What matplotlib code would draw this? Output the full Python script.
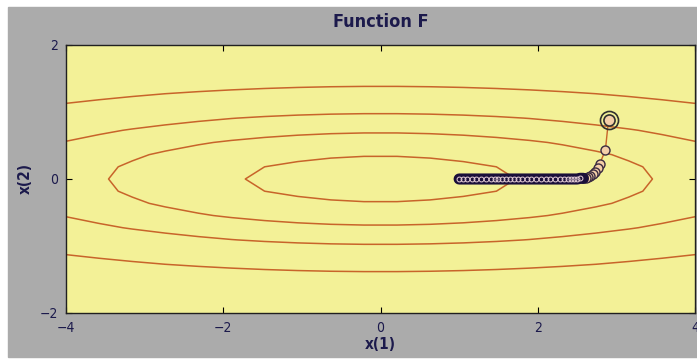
import numpy as np
import matplotlib.pyplot as plt
from matplotlib.patches import Rectangle

# Niveles de contorno y coeficientes de F(x1,x2) = a*x1^2 + b*x2^2
niveles = [3, 12, 24, 48]
coef_a = 1.0
coef_b = 25.0

# Trayectoria del optimizador
tray_x = [2.90, 2.86, 2.79, 2.76, 2.73, 2.70, 2.67, 2.64, 2.61, 2.58,
          2.54, 2.50, 2.46, 2.42, 2.38, 2.33, 2.28, 2.22, 2.16, 2.10,
          2.04, 1.98, 1.92, 1.86, 1.80, 1.75, 1.70, 1.65, 1.60, 1.55,
          1.50, 1.45, 1.40, 1.34, 1.28, 1.22, 1.16, 1.10, 1.05, 1.00]
tray_y = [0.88, 0.43, 0.23, 0.16, 0.11, 0.07, 0.05, 0.03, 0.02, 0.01,
          0.01, 0.0, 0.0, 0.0, 0.0, 0.0, 0.0, 0.0, 0.0, 0.0,
          0.0, 0.0, 0.0, 0.0, 0.0, 0.0, 0.0, 0.0, 0.0, 0.0,
          0.0, 0.0, 0.0, 0.0, 0.0, 0.0, 0.0, 0.0, 0.0, 0.0]

# Malla gruesa, como en el original
x_1 = np.linspace(-4, 4, 20)
x_2 = np.linspace(-2, 2, 23)
x_1, x_2 = np.meshgrid(x_1, x_2)
F = coef_a * x_1**2 + coef_b * x_2**2

gris = '#ababab'
amarillo = '#f3f197'
rojo = '#c8642a'
azul = '#1c1a4c'
fuente = dict(family='DejaVu Sans', stretch='condensed')

fig = plt.figure(figsize=(6.97, 3.6), dpi=100)
fig.patch.set_facecolor('white')
fig.add_artist(Rectangle((8 / 697, 3 / 360), 689 / 697, 350 / 360,
                         transform=fig.transFigure, color=gris, zorder=-10))

ax = fig.add_axes([66 / 697, 47 / 360, 629 / 697, 268 / 360])
ax.set_facecolor(amarillo)

ax.contour(x_1, x_2, F, levels=niveles, colors=rojo, linewidths=1.1)

# Trayectoria
ax.plot(tray_x[:2], tray_y[:2], color=rojo, lw=1.0, zorder=3)
ax.plot(tray_x[1:10], tray_y[1:10], color=rojo, lw=1.0, zorder=3)
ax.plot(tray_x[1:10], tray_y[1:10], 'o', ms=6.5, mfc='#f4cfa8', mec='#3a2a40',
        mew=1.0, zorder=4)
ax.plot(tray_x[9:], tray_y[9:], color='#1a0f3a', lw=8, zorder=5,
        solid_capstyle='round')
ax.plot(tray_x[10:], tray_y[10:], 'o', ms=3.5, mfc='none', mec='#e8d0d8',
        mew=0.7, zorder=6)
ax.plot(tray_x[0], tray_y[0], 'o', ms=13, mfc='none', mec='#303030',
        mew=1.2, zorder=7)
ax.plot(tray_x[0], tray_y[0], 'o', ms=8, mfc='#f4cfa8', mec='#303030',
        mew=1.2, zorder=7)

ax.set_xlim(-4, 4)
ax.set_ylim(-2, 2)
ax.set_xticks([-4, -2, 0, 2, 4])
ax.set_yticks([-2, 0, 2])
ax.tick_params(direction='in', top=True, right=True, length=4,
               labelsize=10, colors='black', labelcolor=azul, pad=6)
for lab in ax.get_xticklabels() + ax.get_yticklabels():
    lab.set(**fuente)

for s in ax.spines.values():
    s.set_color('#202020')
    s.set_linewidth(1.0)

ax.set_title('Function F', fontsize=13, fontweight='bold',
             color=azul, pad=13, **fuente)
ax.set_xlabel('x(1)', fontsize=11, fontweight='bold',
              color=azul, labelpad=1, **fuente)
ax.set_ylabel('x(2)', fontsize=11, fontweight='bold',
              color=azul, labelpad=5, **fuente)

plt.savefig('out.png', dpi=100)
